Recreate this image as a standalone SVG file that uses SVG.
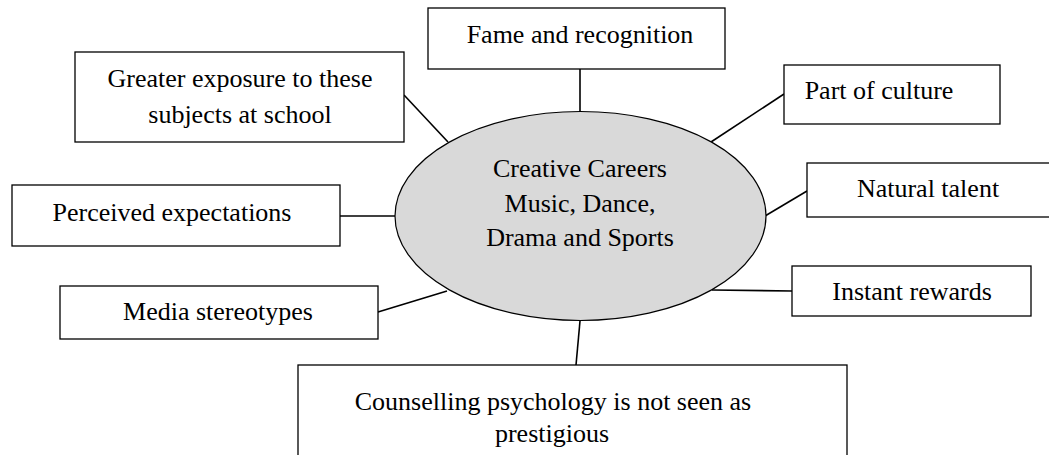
<svg xmlns="http://www.w3.org/2000/svg" width="1049" height="455" viewBox="0 0 1049 455" font-family="Liberation Serif, Times New Roman, serif" font-size="26">
<style>
.box{fill:#fff;stroke:#000;stroke-width:1.3}
.t{fill:#000;text-anchor:middle}
.c line{stroke:#000;stroke-width:1.6}
</style>
<rect width="1049" height="455" fill="#fff"/>
<g class="c" id="connectors">
<line x1="580" y1="69" x2="580" y2="112"/>
<line x1="404" y1="95" x2="448" y2="142"/>
<line x1="340" y1="216" x2="395" y2="216"/>
<line x1="378" y1="312" x2="447" y2="291"/>
<line x1="711" y1="142" x2="784" y2="94"/>
<line x1="765" y1="216" x2="807" y2="191"/>
<line x1="712" y1="290" x2="792" y2="291"/>
<line x1="580" y1="321" x2="576" y2="365"/>
</g>
<g id="center">
<ellipse cx="580.5" cy="216" rx="185.5" ry="104.5" fill="#d9d9d9" stroke="#000" stroke-width="1.2"/>
<text class="t" x="580" y="177" font-family="Liberation Serif">Creative Careers</text>
<text class="t" x="580" y="212" font-family="Liberation Serif">Music, Dance,</text>
<text class="t" x="580" y="246" font-family="Liberation Serif">Drama and Sports</text>
</g>
<g id="fame">
<rect class="box" x="428" y="8" width="297" height="61"/>
<text class="t" x="580" y="43" font-family="Liberation Serif">Fame and recognition</text>
</g>
<g id="exposure">
<rect class="box" x="75" y="52" width="329" height="90"/>
<text class="t" x="240" y="87" font-family="Liberation Serif">Greater exposure to these</text>
<text class="t" x="240" y="123" font-family="Liberation Serif">subjects at school</text>
</g>
<g id="culture">
<rect class="box" x="784" y="65" width="216" height="59"/>
<text class="t" x="879" y="99" font-family="Liberation Serif">Part of culture</text>
</g>
<g id="talent">
<rect class="box" x="807" y="163" width="260" height="54"/>
<text class="t" x="928" y="197" font-family="Liberation Serif">Natural talent</text>
</g>
<g id="expectations">
<rect class="box" x="12" y="185" width="328" height="61"/>
<text class="t" x="172" y="221" font-family="Liberation Serif">Perceived expectations</text>
</g>
<g id="media">
<rect class="box" x="60" y="286" width="318" height="53"/>
<text class="t" x="218" y="320" font-family="Liberation Serif">Media stereotypes</text>
</g>
<g id="rewards">
<rect class="box" x="792" y="266" width="239" height="50"/>
<text class="t" x="912" y="300" font-family="Liberation Serif">Instant rewards</text>
</g>
<g id="counselling">
<rect class="box" x="298" y="365" width="549" height="110"/>
<text class="t" x="553" y="410" font-family="Liberation Serif">Counselling psychology is not seen as</text>
<text class="t" x="552" y="442" font-family="Liberation Serif">prestigious</text>
</g>
</svg>
